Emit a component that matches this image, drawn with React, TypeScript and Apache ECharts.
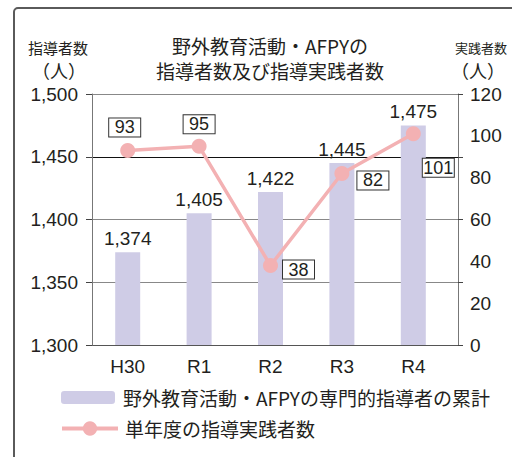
import React, { useEffect, useRef } from "react";
import * as echarts from "echarts";

const categories = ["H30", "R1", "R2", "R3", "R4"];
const leaderTotals = [1374, 1405, 1422, 1445, 1475];
const practitioners = [93, 95, 38, 82, 101];
const practitionerLabelOffsets = [
  [-3, -23],
  [0, -22],
  [28, 4],
  [31, 7],
  [25, 34],
];
const leftTicks = { min: 1300, max: 1500, interval: 50 };
const rightTicks = { min: 0, max: 120, interval: 20 };
const barName = "野外教育活動・AFPYの専門的指導者の累計";
const lineName = "単年度の指導実践者数";

const FONT = "'Liberation Sans', 'Noto Sans CJK JP', sans-serif";
const CJK = "'Noto Sans CJK JP', 'Liberation Sans', sans-serif";
const TXT = "#231f20";

export default function App() {
  const ref = useRef<HTMLDivElement>(null);
  useEffect(() => {
    document.body.style.margin = "0";
    const chart = echarts.init(ref.current!, null, { renderer: "svg" });
    const lineColor = "#f3b1b3";
    chart.setOption({
      animation: false,
      backgroundColor: "#ffffff",
      textStyle: { fontFamily: FONT },
      title: {
        text: "野外教育活動・AFPYの\n指導者数及び指導実践者数",
        left: 265,
        top: 28,
        textAlign: "center",
        textStyle: { fontFamily: CJK, fontSize: 19, fontWeight: "normal", color: TXT, lineHeight: 25 },
      },
      graphic: [
        {
          type: "rect",
          shape: { x: 14, y: 8, width: 530, height: 480, r: 4 },
          style: { fill: "transparent", stroke: "#5a5a5a", lineWidth: 2 },
          z: 100,
        },
        { type: "text", x: 58, y: 47, style: { text: "指導者数", fontFamily: CJK, fontSize: 15, fill: TXT, align: "center", verticalAlign: "middle" } },
        { type: "text", x: 59, y: 70, style: { text: "（人）", fontFamily: CJK, fontSize: 18, fill: TXT, align: "center", verticalAlign: "middle" } },
        { type: "text", x: 481, y: 47, style: { text: "実践者数", fontFamily: CJK, fontSize: 13, fill: TXT, align: "center", verticalAlign: "middle" } },
        { type: "text", x: 478, y: 70, style: { text: "（人）", fontFamily: CJK, fontSize: 18, fill: TXT, align: "center", verticalAlign: "middle" } },
      ],
      legend: [
        {
          data: [barName],
          left: 61,
          top: 388,
          padding: 0,
          itemWidth: 54,
          itemHeight: 13,
          textStyle: { fontFamily: CJK, fontSize: 19, color: TXT, padding: [0, 0, 0, 3] },
        },
        {
          data: [lineName],
          left: 60,
          top: 419,
          padding: 0,
          itemWidth: 56,
          itemHeight: 18,
          lineStyle: { width: 4, color: lineColor },
          textStyle: { fontFamily: CJK, fontSize: 19, color: TXT, padding: [0, 0, 0, 2] },
        },
      ],
      grid: [
        { left: 92, top: 94, width: 366, height: 251, containLabel: false },
        { left: 92, top: 94, width: 357, height: 251, containLabel: false },
      ],
      xAxis: [
        { gridIndex: 0, type: "value", min: 0, max: 1, show: false },
        {
          gridIndex: 1,
          type: "category",
          data: categories,
          axisLine: { show: false },
          axisTick: { show: false },
          axisLabel: { fontSize: 19, color: TXT, margin: 12, fontFamily: FONT },
        },
      ],
      yAxis: [
        {
          gridIndex: 0,
          position: "left",
          type: "value",
          ...leftTicks,
          axisLine: { show: true, lineStyle: { color: "#777", width: 1 } },
          axisTick: { show: true, inside: false, length: 6, lineStyle: { color: "#444" } },
          axisLabel: {
            fontSize: 19,
            color: TXT,
            margin: 14,
            fontFamily: FONT,
            formatter: (v: number) => v.toLocaleString("en-US"),
          },
          splitLine: { show: true, lineStyle: { color: ["#555", "#888", "#888", "#111", "#888"], width: 1 } },
        },
        {
          gridIndex: 0,
          position: "right",
          type: "value",
          ...leftTicks,
          axisLine: { show: true, lineStyle: { color: "#777", width: 1 } },
          axisTick: { show: true, inside: false, length: 5, lineStyle: { color: "#444" } },
          axisLabel: { show: false },
          splitLine: { show: false },
        },
        {
          gridIndex: 0,
          position: "right",
          type: "value",
          ...rightTicks,
          axisLine: { show: false },
          axisTick: { show: false },
          axisLabel: { fontSize: 19, color: TXT, margin: 12, fontFamily: FONT },
          splitLine: { show: false },
        },
        { gridIndex: 1, type: "value", ...leftTicks, show: false, splitLine: { show: false } },
        { gridIndex: 1, type: "value", ...rightTicks, show: false, splitLine: { show: false } },
      ],
      series: [
        {
          name: barName,
          type: "bar",
          xAxisIndex: 1,
          yAxisIndex: 3,
          data: leaderTotals,
          barWidth: 25,
          itemStyle: { color: "#cfcce6" },
          label: {
            show: true,
            position: "top",
            distance: 4,
            fontSize: 19,
            color: TXT,
            fontFamily: FONT,
            formatter: (p: any) => Number(p.value).toLocaleString("en-US"),
          },
          z: 2,
        },
        {
          name: lineName,
          type: "line",
          xAxisIndex: 1,
          yAxisIndex: 4,
          data: practitioners.map((v, i) => ({
            value: v,
            label: { offset: practitionerLabelOffsets[i] },
          })),
          symbol: "circle",
          symbolSize: 15,
          lineStyle: { color: lineColor, width: 3.5 },
          itemStyle: { color: lineColor },
          label: {
            show: true,
            position: "inside",
            fontSize: 18,
            color: TXT,
            fontFamily: FONT,
            backgroundColor: "#fff",
            borderColor: "#333",
            borderWidth: 1,
            width: 27,
            height: 18,
            lineHeight: 18,
            align: "center",
            padding: [0, 2],
          },
          z: 5,
        },
      ],
    });
    return () => chart.dispose();
  }, []);
  return (
    <div
      ref={ref}
      style={{ position: "fixed", left: 0, top: 0, width: 512, height: 457 }}
    />
  );
}
